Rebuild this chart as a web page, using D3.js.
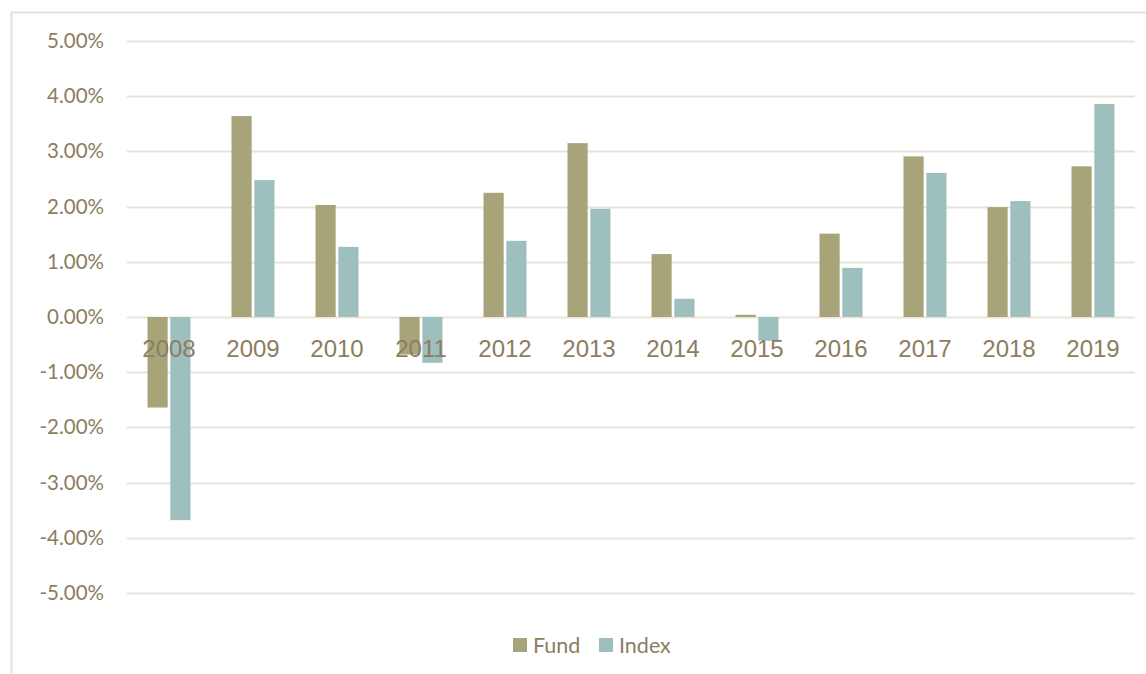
<!DOCTYPE html>
<html>
<head>
<meta charset="utf-8">
<script src="https://cdn.jsdelivr.net/npm/d3@7/dist/d3.min.js"></script>
<style>
  body { margin: 0; background: #fff; }
  svg { display: block; }
</style>
</head>
<body>
<svg id="chart"></svg>
<script>
let years = ["2008", "2009", "2010", "2011", "2012", "2013", "2014", "2015", "2016", "2017", "2018", "2019"]
let fund = [-1.64, 3.64, 2.03, -0.68, 2.25, 3.15, 1.14, 0.04, 1.51, 2.91, 1.99, 2.73]
let index = [-3.68, 2.48, 1.27, -0.83, 1.38, 1.96, 0.33, -0.43, 0.89, 2.61, 2.1, 3.86]
let seriesNames = ["Fund", "Index"]
let yTicks = [5, 4, 3, 2, 1, 0, -1, -2, -3, -4, -5]

let colors = { Fund: "#a8a47a", Index: "#9dbfbe" }
let textColor = "#8b7d5e"

let W = 1146, H = 674
let svg = d3.select("#chart").attr("width", W).attr("height", H)

// outer frame (only left and top visible in the crop)
svg.append("path")
    .attr("d", "M11.5," + H + " V12.5 H" + W)
    .attr("fill", "none")
    .attr("stroke", "#e6e2d8")
    .attr("stroke-width", 2)

let plot = { left: 127, right: 1135, top: 41, bottom: 593 }
let y = d3.scaleLinear().domain([-5, 5]).range([plot.bottom, plot.top])

// gridlines
svg.append("g")
    .selectAll("line")
    .data(yTicks)
    .join("line")
    .attr("x1", plot.left)
    .attr("x2", plot.right)
    .attr("y1", d => Math.round(y(d)) + 0.5)
    .attr("y2", d => Math.round(y(d)) + 0.5)
    .attr("stroke", "#e8e4da")
    .attr("stroke-width", 2)

// y labels
svg.append("g")
    .selectAll("text")
    .data(yTicks)
    .join("text")
    .attr("x", 104)
    .attr("y", d => y(d) + 7)
    .attr("text-anchor", "end")
    .attr("font-family", "Lato, 'Open Sans', sans-serif")
    .attr("font-size", "20.5px")
    .attr("fill", textColor)
    .text(d => d.toFixed(2) + "%")

// bars
let rows = years.map((yr, i) => ({ year: yr, Fund: fund[i], Index: index[i] }))
let barW = 19, gap = 5
let groupW = barW * 2 + gap
let x0 = d3.scalePoint().domain(years).range([169, 1093])
let xs = d3.scaleBand().domain(seriesNames).range([-groupW / 2, groupW / 2]).paddingInner(gap / groupW)

let groups = svg.append("g")
    .selectAll("g")
    .data(rows)
    .join("g")
    .attr("transform", d => "translate(" + x0(d.year) + ",0)")

groups.selectAll("rect")
    .data(d => seriesNames.map(s => ({ key: s, value: d[s] })))
    .join("rect")
    .attr("x", d => xs(d.key))
    .attr("width", xs.bandwidth())
    .attr("y", d => y(Math.max(0, d.value)))
    .attr("height", d => Math.abs(y(d.value) - y(0)))
    .attr("fill", d => colors[d.key])

// category labels (drawn over bars, like the original)
svg.append("g")
    .selectAll("text")
    .data(years)
    .join("text")
    .attr("x", d => x0(d))
    .attr("y", 357)
    .attr("text-anchor", "middle")
    .attr("font-family", "'Liberation Sans', Arial, sans-serif")
    .attr("font-size", "24px")
    .attr("fill", textColor)
    .text(d => d)

// legend
let legendItems = [{ name: "Fund", x: 513 }, { name: "Index", x: 599 }]
let legend = svg.append("g")
    .selectAll("g")
    .data(legendItems)
    .join("g")
    .attr("transform", d => "translate(" + d.x + ",638)")

legend.append("rect")
    .attr("width", 14)
    .attr("height", 14)
    .attr("fill", d => colors[d.name])

legend.append("text")
    .attr("x", 20)
    .attr("y", 14.5)
    .attr("font-family", "Lato, 'Open Sans', sans-serif")
    .attr("font-size", "21.5px")
    .attr("fill", textColor)
    .text(d => d.name)
</script>
</body>
</html>
